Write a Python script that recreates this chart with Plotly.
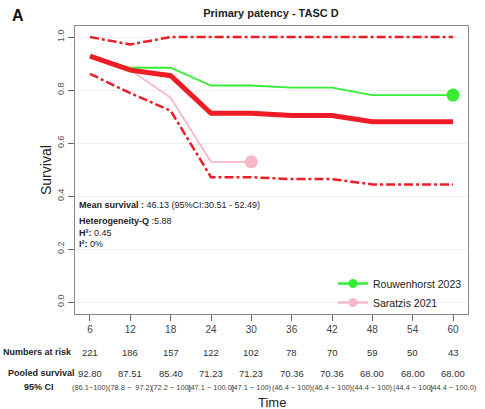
import plotly.graph_objects as go

times = [6, 12, 18, 24, 30, 36, 42, 48, 54, 60]
pooled = [0.9280, 0.8751, 0.8540, 0.7123, 0.7123, 0.7036, 0.7036, 0.6800, 0.6800, 0.6800]
ci_low = [0.861, 0.788, 0.722, 0.471, 0.471, 0.464, 0.464, 0.444, 0.444, 0.444]
ci_high = [1.0, 0.972, 1.0, 1.0, 1.0, 1.0, 1.0, 1.0, 1.0, 1.0]
rouwenhorst = [0.928, 0.884, 0.884, 0.817, 0.817, 0.809, 0.809, 0.781, 0.781, 0.781]
saratzis_t = [6, 12, 18, 24, 30]
saratzis = [0.928, 0.875, 0.771, 0.529, 0.529]
at_risk = [221, 186, 157, 122, 102, 78, 70, 59, 50, 43]
pooled_lbl = ["92.80", "87.51", "85.40", "71.23", "71.23", "70.36", "70.36", "68.00", "68.00", "68.00"]
ci_lbl = ["(86.1\u2212100)", "(78.8 \u2212  97.2)", "(72.2 \u2212 100)", "(47.1 \u2212 100.0)", "(47.1 \u2212 100)",
          "(46.4 \u2212 100)", "(46.4 \u2212 100)", "(44.4 \u2212 100)", "(44.4 \u2212 100)", "(44.4 \u2212 100.0)"]

RED = "#ee1c25"
GREEN = "#33ee33"
PINK = "#f7b8c8"
FONT = "Arial, Liberation Sans, sans-serif"

fig = go.Figure()
fig.add_trace(go.Scatter(x=times, y=ci_high, mode="lines", line=dict(color=RED, width=2.5, dash="dashdot"), showlegend=False))
fig.add_trace(go.Scatter(x=times, y=ci_low, mode="lines", line=dict(color=RED, width=2.5, dash="dashdot"), showlegend=False))
# legend entries (small markers, hidden beneath the end markers)
fig.add_trace(go.Scatter(x=times[-1:], y=rouwenhorst[-1:], mode="lines+markers", name="Rouwenhorst 2023",
                         line=dict(color=GREEN, width=2.5), marker=dict(color=GREEN, size=9)))
fig.add_trace(go.Scatter(x=saratzis_t[-1:], y=saratzis[-1:], mode="lines+markers", name="Saratzis 2021",
                         line=dict(color=PINK, width=2.5), marker=dict(color=PINK, size=9)))
fig.add_trace(go.Scatter(x=saratzis_t, y=saratzis, mode="lines", line=dict(color=PINK, width=1.8), showlegend=False))
fig.add_trace(go.Scatter(x=times, y=rouwenhorst, mode="lines", line=dict(color=GREEN, width=1.8), showlegend=False))
fig.add_trace(go.Scatter(x=times, y=pooled, mode="lines", line=dict(color=RED, width=5), showlegend=False))
fig.add_trace(go.Scatter(x=times[-1:], y=rouwenhorst[-1:], mode="markers", showlegend=False,
                         marker=dict(color=GREEN, size=13)))
fig.add_trace(go.Scatter(x=saratzis_t[-1:], y=saratzis[-1:], mode="markers", showlegend=False,
                         marker=dict(color=PINK, size=13)))

PLOT_L, PLOT_R, PLOT_T, PLOT_B = 75, 468, 26, 314

def px_x(px):
    return (px - PLOT_L) / (PLOT_R - PLOT_L)

def px_y(py):
    return (PLOT_B - py) / (PLOT_B - PLOT_T)

ann = []
ann.append(dict(text="<b>A</b>", x=px_x(18), y=px_y(15), xref="paper", yref="paper", showarrow=False,
                xanchor="center", yanchor="middle", font=dict(size=16, color="#111", family=FONT)))
ann.append(dict(text="Survival", x=px_x(46), y=px_y(170), xref="paper", yref="paper", showarrow=False,
                textangle=-90, xanchor="center", yanchor="middle", font=dict(size=14, color="#222", family=FONT)))
stats = [("<b>Mean survival :</b> 46.13 (95%CI:30.51 - 52.49)", 205),
         ("<b>Heterogeneity-Q</b> :5.88", 221),
         ("<b>H\u00b2:</b> 0.45", 233),
         ("<b>I\u00b2:</b> 0%", 244)]
for t, py in stats:
    ann.append(dict(text=t, x=px_x(77), y=px_y(py), xref="paper", yref="paper", xanchor="left", yanchor="middle",
                    showarrow=False, font=dict(size=9, color="#222", family=FONT)))

ann.append(dict(text="<b>Numbers at risk</b>", x=px_x(74), y=px_y(352), xref="paper", yref="paper", xanchor="right",
                yanchor="middle", showarrow=False, font=dict(size=9, color="#222", family=FONT)))
ann.append(dict(text="<b>Pooled survival</b>", x=px_x(77), y=px_y(373), xref="paper", yref="paper", xanchor="right",
                yanchor="middle", showarrow=False, font=dict(size=9, color="#222", family=FONT)))
ann.append(dict(text="<b>95% CI</b>", x=px_x(56), y=px_y(387), xref="paper", yref="paper", xanchor="right",
                yanchor="middle", showarrow=False, font=dict(size=9, color="#222", family=FONT)))
for t, n, p, c in zip(times, at_risk, pooled_lbl, ci_lbl):
    ann.append(dict(text=str(n), x=t, y=px_y(352), xref="x", yref="paper", showarrow=False, yanchor="middle",
                    font=dict(size=9.5, color="#333", family=FONT)))
    ann.append(dict(text=p, x=t, y=px_y(373), xref="x", yref="paper", showarrow=False, yanchor="middle",
                    font=dict(size=9.5, color="#333", family=FONT)))
    ann.append(dict(text=c, x=t, y=px_y(387), xref="x", yref="paper", showarrow=False, yanchor="middle",
                    font=dict(size=7.4, color="#444", family=FONT)))
ann.append(dict(text="Time", x=px_x(272), y=px_y(402), xref="paper", yref="paper", showarrow=False, yanchor="middle",
                font=dict(size=13, color="#222", family=FONT)))

fig.update_layout(
    width=485, height=409,
    margin=dict(l=PLOT_L, r=485 - PLOT_R, t=PLOT_T, b=409 - PLOT_B, autoexpand=False),
    paper_bgcolor="white", plot_bgcolor="white",
    font=dict(family=FONT, color="#222"),
    title=dict(text="<b>Primary patency - TASC D</b>", x=271 / 485, y=1 - 13 / 409,
               xanchor="center", yanchor="middle", font=dict(size=11, color="#222", family=FONT)),
    xaxis=dict(range=[3.77, 62.23], tickvals=times, ticks="outside", ticklen=6, tickcolor="#666",
               showgrid=False, zeroline=False, showline=True, linecolor="#888", linewidth=1, mirror=True,
               automargin=False, tickfont=dict(size=10, color="#444", family=FONT)),
    yaxis=dict(range=[-0.045, 1.0415], tickvals=[0, 0.2, 0.4, 0.6, 0.8, 1.0],
               ticktext=["0.0", "0.2", "0.4", "0.6", "0.8", "1.0"], tickangle=-90,
               ticks="outside", ticklen=6, tickcolor="#666", showgrid=True, gridcolor="#f0f0f0",
               zeroline=False, showline=True, linecolor="#888", linewidth=1, mirror=True, automargin=False,
               tickfont=dict(size=9, color="#555", family=FONT)),
    legend=dict(x=px_x(333), y=px_y(317), xanchor="left", yanchor="bottom", bgcolor="rgba(0,0,0,0)",
                font=dict(size=10.5, color="#222", family=FONT), itemwidth=30, tracegroupgap=0),
    annotations=ann,
)

fig.write_html("out.html", config={"displayModeBar": False},
               post_script="document.body.style.margin='0';document.body.style.overflow='hidden';")
